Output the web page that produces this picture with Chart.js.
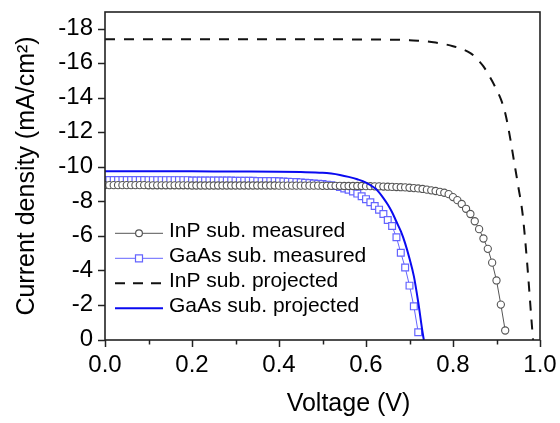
<!DOCTYPE html>
<html><head><meta charset="utf-8">
<script src="https://cdn.jsdelivr.net/npm/chart.js@4"></script>
<style>html,body{margin:0;padding:0;background:#fff}</style>
</head><body>
<canvas id="c" width="560" height="423" style="width:560px;height:423px;display:block"></canvas>
<script>
// ---------- data ----------
const xTicks = [0, 0.2, 0.4, 0.6, 0.8, 1.0];
const xMinorTicks = [0.1, 0.3, 0.5, 0.7, 0.9];
const yTicks = [-18, -16, -14, -12, -10, -8, -6, -4, -2, 0];
const seriesNames = ['InP sub. measured', 'GaAs sub. measured', 'InP sub. projected', 'GaAs sub. projected'];
const xTitle = 'Voltage (V)';
const yTitle = 'Current density (mA/cm\u00B2)';

const inpMeasV = [0.00,0.01,0.02,0.03,0.04,0.05,0.06,0.07,0.08,0.09,
  0.10,0.11,0.12,0.13,0.14,0.15,0.16,0.17,0.18,0.19,
  0.20,0.21,0.22,0.23,0.24,0.25,0.26,0.27,0.28,0.29,
  0.30,0.31,0.32,0.33,0.34,0.35,0.36,0.37,0.38,0.39,
  0.40,0.41,0.42,0.43,0.44,0.45,0.46,0.47,0.48,0.49,
  0.50,0.51,0.52,0.53,0.54,0.55,0.56,0.57,0.58,0.59,
  0.60,0.61,0.62,0.63,0.64,0.65,0.66,0.67,0.68,0.69,
  0.70,0.71,0.72,0.73,0.74,0.75,0.76,0.77,0.78,0.79,
  0.80,0.81,0.82,0.83,0.84,0.85,0.86,0.87,0.88,0.89,
  0.90,0.91,0.92];
const inpMeasJ = [-8.97,-8.97,-8.97,-8.97,-8.97,-8.97,-8.97,-8.97,-8.97,-8.97,
  -8.96,-8.96,-8.96,-8.96,-8.96,-8.96,-8.96,-8.96,-8.96,-8.96,
  -8.95,-8.95,-8.95,-8.95,-8.95,-8.95,-8.95,-8.95,-8.95,-8.95,
  -8.95,-8.95,-8.95,-8.95,-8.95,-8.95,-8.95,-8.95,-8.95,-8.95,
  -8.94,-8.94,-8.94,-8.94,-8.94,-8.94,-8.94,-8.94,-8.94,-8.94,
  -8.93,-8.93,-8.93,-8.93,-8.93,-8.92,-8.92,-8.92,-8.92,-8.92,
  -8.91,-8.91,-8.90,-8.90,-8.89,-8.88,-8.87,-8.86,-8.85,-8.84,
  -8.82,-8.80,-8.78,-8.75,-8.71,-8.67,-8.63,-8.58,-8.53,-8.45,
  -8.28,-8.10,-7.88,-7.60,-7.30,-6.88,-6.42,-5.88,-5.28,-4.48,
  -3.45,-2.05,-0.55];

const gaasMeasV = [0.00,0.01,0.02,0.03,0.04,0.05,0.06,0.07,0.08,0.09,
  0.10,0.11,0.12,0.13,0.14,0.15,0.16,0.17,0.18,0.19,
  0.20,0.21,0.22,0.23,0.24,0.25,0.26,0.27,0.28,0.29,
  0.30,0.31,0.32,0.33,0.34,0.35,0.36,0.37,0.38,0.39,
  0.40,0.41,0.42,0.43,0.44,0.45,0.46,0.47,0.48,0.49,
  0.50,0.51,0.52,0.53,0.54,0.55,0.56,0.57,0.58,0.59,
  0.60,0.61,0.62,0.63,0.64,0.65,0.66,0.67,0.68,0.69,
  0.70,0.71,0.72];
const gaasMeasJ = [-9.27,-9.27,-9.27,-9.27,-9.27,-9.27,-9.27,-9.27,-9.27,-9.27,
  -9.26,-9.26,-9.26,-9.26,-9.26,-9.26,-9.26,-9.26,-9.26,-9.26,
  -9.24,-9.24,-9.24,-9.24,-9.24,-9.24,-9.24,-9.24,-9.24,-9.24,
  -9.22,-9.22,-9.22,-9.22,-9.22,-9.21,-9.21,-9.21,-9.21,-9.21,
  -9.19,-9.18,-9.17,-9.16,-9.15,-9.13,-9.11,-9.09,-9.07,-9.05,
  -9.03,-9.00,-8.97,-8.92,-8.86,-8.78,-8.70,-8.60,-8.48,-8.33,
  -8.16,-7.98,-7.76,-7.55,-7.30,-6.95,-6.60,-5.95,-5.05,-4.20,
  -3.15,-1.95,-0.45];

const inpProjV = [0, 0.2, 0.4, 0.6, 0.65, 0.7, 0.72, 0.74, 0.76, 0.78, 0.8, 0.82, 0.84, 0.85, 0.86, 0.87, 0.88, 0.89, 0.9, 0.91, 0.92, 0.93, 0.94, 0.95, 0.96, 0.97, 0.98, 0.984];
const inpProjJ = [-17.42, -17.42, -17.42, -17.41, -17.40, -17.37, -17.34, -17.30, -17.23, -17.14, -17.02, -16.86, -16.62, -16.42, -16.15, -15.85, -15.45, -15.00, -14.50, -13.95, -13.15, -11.90, -10.40, -8.90, -7.30, -4.60, -1.30, 0];

const gaasProjV = [0, 0.1, 0.2, 0.3, 0.4, 0.45, 0.5, 0.52, 0.54, 0.56, 0.58, 0.6, 0.62, 0.63, 0.64, 0.65, 0.66, 0.67, 0.68, 0.69, 0.7, 0.71, 0.72, 0.73, 0.733];
const gaasProjJ = [-9.78, -9.78, -9.77, -9.76, -9.75, -9.73, -9.69, -9.64, -9.56, -9.45, -9.31, -9.12, -8.80, -8.55, -8.22, -7.85, -7.40, -6.85, -6.30, -5.60, -4.72, -3.70, -2.20, -0.45, 0];

// ---------- chart ----------
const FONT = '"Liberation Sans", Arial, sans-serif';
const pts = (xs, ys) => xs.map((x, i) => ({x: x, y: ys[i]}));

const styles = [
  {color: '#555555', pointStyle: 'circle', radius: 3.6, lineWidth: 1, dash: []},
  {color: '#6464ff', pointStyle: 'rect', radius: 4.8, lineWidth: 1, dash: []},
  {color: '#111111', pointStyle: false, radius: 0, lineWidth: 2, dash: [10, 9]},
  {color: '#0a0af0', pointStyle: false, radius: 0, lineWidth: 2, dash: []}
];

const decor = {
  id: 'decor',
  afterDraw(chart) {
    const ctx = chart.ctx;
    const a = chart.chartArea;
    const xs = chart.scales.x;
    ctx.save();
    // box
    ctx.strokeStyle = '#222';
    ctx.lineWidth = 1.6;
    ctx.strokeRect(a.left, a.top, a.right - a.left, a.bottom - a.top);
    // minor ticks
    ctx.lineWidth = 1.5;
    xMinorTicks.forEach(v => {
      const px = Math.round(xs.getPixelForValue(v)) + 0.5;
      ctx.beginPath(); ctx.moveTo(px, a.bottom); ctx.lineTo(px, a.bottom + 4.5); ctx.stroke();
    });
    // axis titles
    ctx.fillStyle = '#000';
    ctx.font = '25px ' + FONT;
    ctx.textAlign = 'center';
    ctx.textBaseline = 'middle';
    ctx.fillText(xTitle, (a.left + a.right) / 2 + 26, 404);
    ctx.save();
    ctx.translate(27, (a.top + a.bottom) / 2);
    ctx.rotate(-Math.PI / 2);
    ctx.fillText(yTitle, 0, 0);
    ctx.restore();
    // legend
    ctx.font = '21px ' + FONT;
    ctx.textAlign = 'left';
    const rowY = [233.3, 258.3, 283.3, 308.3];
    seriesNames.forEach((name, i) => {
      const s = styles[i];
      const y = rowY[i];
      ctx.strokeStyle = s.color;
      ctx.lineWidth = s.lineWidth;
      ctx.setLineDash(i === 2 ? [10, 8] : []);
      ctx.beginPath(); ctx.moveTo(115, y); ctx.lineTo(163, y); ctx.stroke();
      ctx.setLineDash([]);
      if (s.pointStyle) {
        ctx.fillStyle = '#fff';
        ctx.lineWidth = 1.2;
        if (s.pointStyle === 'circle') {
          ctx.beginPath(); ctx.arc(139, y, 3.4, 0, Math.PI * 2); ctx.fill(); ctx.stroke();
        } else {
          ctx.beginPath(); ctx.rect(135.5, y - 3.5, 7, 7); ctx.fill(); ctx.stroke();
        }
      }
      ctx.fillStyle = '#000';
      ctx.fillText(name, 169, y - 2);
    });
    ctx.restore();
  }
};

new Chart(document.getElementById('c'), {
  type: 'line',
  data: {
    datasets: [
      {label: seriesNames[0], data: pts(inpMeasV, inpMeasJ), order: 2,
       borderColor: styles[0].color, borderWidth: 1, pointStyle: 'circle', pointRadius: styles[0].radius,
       pointBackgroundColor: '#fff', pointBorderColor: styles[0].color, pointBorderWidth: 1.1, tension: 0},
      {label: seriesNames[1], data: pts(gaasMeasV, gaasMeasJ), order: 3,
       borderColor: styles[1].color, borderWidth: 1, pointStyle: 'rect', pointRadius: styles[1].radius,
       pointBackgroundColor: '#fff', pointBorderColor: styles[1].color, pointBorderWidth: 1.2, tension: 0},
      {label: seriesNames[2], data: pts(inpProjV, inpProjJ), order: 1,
       borderColor: styles[2].color, borderWidth: 2, borderDash: styles[2].dash, pointRadius: 0,
       cubicInterpolationMode: 'monotone'},
      {label: seriesNames[3], data: pts(gaasProjV, gaasProjJ), order: 0,
       borderColor: styles[3].color, borderWidth: 2, pointRadius: 0,
       cubicInterpolationMode: 'monotone'}
    ]
  },
  options: {
    responsive: false,
    animation: false,
    devicePixelRatio: 1,
    layout: {padding: {left: 0, right: 20, top: 12, bottom: 0}},
    plugins: {legend: {display: false}, tooltip: {enabled: false}},
    elements: {line: {fill: false}},
    scales: {
      x: {
        type: 'linear', min: 0, max: 1,
        afterBuildTicks: s => { s.ticks = xTicks.map(v => ({value: v})); },
        afterFit: s => { s.height = 83; s.paddingLeft = 0; s.paddingRight = 0; },
        border: {display: false},
        grid: {drawOnChartArea: false, drawTicks: true, tickLength: 7, tickColor: '#222', tickWidth: 1.5},
        ticks: {color: '#000', font: {family: FONT, size: 24}, padding: 4, maxRotation: 0,
                callback: v => Number(v).toFixed(1)}
      },
      y: {
        type: 'linear', min: -19, max: 0, reverse: true,
        afterBuildTicks: s => { s.ticks = yTicks.map(v => ({value: v})); },
        afterFit: s => { s.width = 105; s.paddingTop = 0; s.paddingBottom = 0; },
        border: {display: false},
        grid: {drawOnChartArea: false, drawTicks: true, tickLength: 7, tickColor: '#222', tickWidth: 1.5},
        ticks: {color: '#000', font: {family: FONT, size: 24}, padding: 5, labelOffset: -1,
                callback: v => String(v)}
      }
    }
  },
  plugins: [decor]
});
</script>
</body></html>
